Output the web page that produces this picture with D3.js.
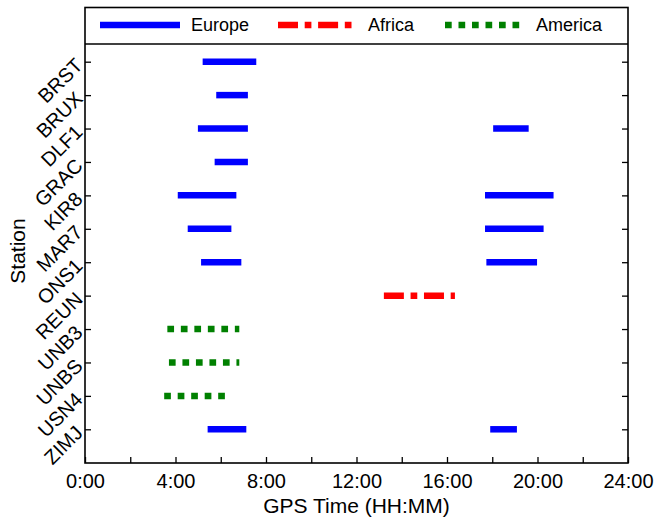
<!DOCTYPE html>
<html>
<head>
<meta charset="utf-8">
<script src="https://cdn.jsdelivr.net/npm/d3@7"></script>
<style>
  html, body { margin: 0; padding: 0; background: #fff; }
  svg { display: block; font-family: "Liberation Sans", Arial, Helvetica, sans-serif; }
</style>
</head>
<body>
<svg id="chart" width="655" height="523"></svg>
<script>
// Stations, top to bottom
const stations = ["BRST", "BRUX", "DLF1", "GRAC", "KIR8", "MAR7", "ONS1", "REUN", "UNB3", "UNBS", "USN4", "ZIMJ"];

// Observation sessions per region: [station, start hour, end hour] (GPS time)
const europeSessions = [
  ["BRST", 5.20, 7.57],
  ["BRUX", 5.80, 7.20],
  ["DLF1", 4.99, 7.20], ["DLF1", 18.04, 19.61],
  ["GRAC", 5.73, 7.20],
  ["KIR8", 4.10, 6.69], ["KIR8", 17.68, 20.71],
  ["MAR7", 4.54, 6.47], ["MAR7", 17.68, 20.27],
  ["ONS1", 5.13, 6.91], ["ONS1", 17.74, 19.98],
  ["ZIMJ", 5.42, 7.13], ["ZIMJ", 17.91, 19.09]
];
const africaSessions = [
  ["REUN", 13.21, 16.35]
];
const americaSessions = [
  ["UNB3", 3.64, 6.82],
  ["UNBS", 3.71, 6.82],
  ["USN4", 3.50, 6.19]
];

const majorTicks = [0, 4, 8, 12, 16, 20, 24];
const minorTicks = [2, 6, 10, 14, 18, 22];
const xTitle = "GPS Time (HH:MM)";
const yTitle = "Station";

const series = [
  { name: "Europe",  data: europeSessions,  color: "#0000ff", dash: null },
  { name: "Africa",  data: africaSessions,  color: "#ff0000", dash: "20 6.7 6.7 6.7" },
  { name: "America", data: americaSessions, color: "#008000", dash: "6.7 6.8" }
];

const svg = d3.select("#chart");
const left = 85, right = 628, frameTop = 7.5, legendBottom = 44, bottom = 463;

const x = d3.scaleLinear().domain([0, 24]).range([left, right]);
const y = d3.scalePoint().domain(stations).range([61.7, 429.3]);

const fmt = h => `${Math.floor(h)}:${String(Math.round((h % 1) * 60)).padStart(2, "0")}`;

// Sessions
const marks = svg.append("g");
series.forEach(s => {
  marks.selectAll(null)
    .data(s.data)
    .join("line")
    .attr("x1", d => x(d[1]))
    .attr("x2", d => x(d[2]))
    .attr("y1", d => y(d[0]))
    .attr("y2", d => y(d[0]))
    .attr("stroke", s.color)
    .attr("stroke-width", 6.5)
    .attr("stroke-dasharray", s.dash);
});

// Bottom axis: ticks pointing inward, labels every 4 hours
const xAxis = d3.axisBottom(x)
  .tickValues(majorTicks.concat(minorTicks))
  .tickSize(-6)
  .tickPadding(12)
  .tickFormat(d => majorTicks.includes(d) ? fmt(d) : "");
const gx = svg.append("g").attr("transform", `translate(0,${bottom})`).call(xAxis);
gx.select(".domain").remove();
gx.selectAll(".tick line").attr("stroke", "#000").attr("stroke-width", 1.3);
gx.selectAll(".tick text").attr("font-size", 20).attr("fill", "#000")
  .attr("dy", null).attr("y", 25);

// Left and right axes: inward ticks
const yLeft = d3.axisLeft(y).tickSize(-6).tickFormat("");
const gyl = svg.append("g").attr("transform", `translate(${left},0)`).call(yLeft);
gyl.select(".domain").remove();
gyl.selectAll(".tick line").attr("stroke", "#000").attr("stroke-width", 1.3);

const yRight = d3.axisRight(y).tickSize(-6).tickFormat("");
const gyr = svg.append("g").attr("transform", `translate(${right},0)`).call(yRight);
gyr.select(".domain").remove();
gyr.selectAll(".tick line").attr("stroke", "#000").attr("stroke-width", 1.3);

// Station labels, rotated
svg.append("g").selectAll("text")
  .data(stations)
  .join("text")
  .attr("transform", d => `translate(79,${y(d)}) rotate(-45)`)
  .attr("text-anchor", "end")
  .attr("dy", "0.35em")
  .attr("font-size", 20)
  .attr("fill", "#000")
  .text(d => d);

// Frame and legend box
svg.append("rect")
  .attr("x", left).attr("y", frameTop)
  .attr("width", right - left).attr("height", bottom - frameTop)
  .attr("fill", "none").attr("stroke", "#000").attr("stroke-width", 1.6);
svg.append("line")
  .attr("x1", left).attr("x2", right)
  .attr("y1", legendBottom).attr("y2", legendBottom)
  .attr("stroke", "#000").attr("stroke-width", 1.6);

// Legend
const legendX = [100, 278, 445];
const legendY = 25;
const lg = svg.append("g").selectAll("g").data(series).join("g")
  .attr("transform", (d, i) => `translate(${legendX[i]},${legendY})`);
lg.append("line")
  .attr("x1", 0).attr("x2", 80)
  .attr("stroke", d => d.color)
  .attr("stroke-width", 6.5)
  .attr("stroke-dasharray", d => d.dash);
lg.append("text")
  .attr("x", (d, i) => [91, 90, 91][i])
  .attr("y", 6.3)
  .attr("font-size", 18)
  .attr("fill", "#000")
  .text(d => d.name);

// Axis titles
svg.append("text")
  .attr("x", (left + right) / 2).attr("y", 513)
  .attr("text-anchor", "middle")
  .attr("font-size", 21)
  .attr("fill", "#000")
  .text(xTitle);
svg.append("text")
  .attr("transform", `translate(25,251) rotate(-90)`)
  .attr("text-anchor", "middle")
  .attr("font-size", 21)
  .attr("fill", "#000")
  .text(yTitle);
</script>
</body>
</html>
